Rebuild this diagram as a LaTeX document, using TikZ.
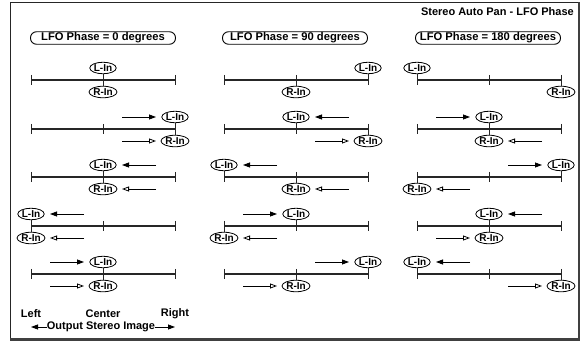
\documentclass[tikz,border=0pt]{standalone}
\usepackage{fontspec}
\setmainfont{Liberation Sans}
\usetikzlibrary{arrows.meta,shapes.geometric}
\tikzset{
  axisline/.style={line width=1.2pt, draw=black!85},
  tickline/.style={line width=0.9pt, draw=black!85},
  chan/.style={ellipse, draw, line width=0.8pt, inner sep=0.2pt, fill=white,
    minimum height=11.5pt, minimum width=25pt,
    font=\fontsize{10}{11}\selectfont\bfseries},
  hdr/.style={draw, line width=0.9pt, rounded corners=6pt, minimum width=145pt,
    minimum height=12.5pt, inner sep=0pt, font=\fontsize{11.2}{12}\selectfont\bfseries},
  lbl/.style={inner sep=0pt, font=\fontsize{11}{12}\selectfont\bfseries},
  arrL/.style={-{Triangle[length=7pt,width=5pt]}, line width=0.8pt},
  arrR/.style={-{Triangle[open,length=7pt,width=5pt]}, line width=0.8pt},
}
\newcommand\pandiag[7]{%
  \coordinate (#1a) at ({#2-72},#3);
  \coordinate (#1c) at (#2,#3);
  \coordinate (#1b) at ({#2+72},#3);
  \draw[axisline] (#1a) -- (#1b);
  \foreach \q in {a,c,b}{\draw[tickline] ([yshift=5pt]#1\q) -- ([yshift=-5pt]#1\q);}
  \coordinate (#1Lp) at ({#2+#4},#3);
  \coordinate (#1Rp) at ({#2+#5},#3);
  \node[chan] (#1L) at ({#2+#4},{#3-12}) {L-In};
  \node[chan] (#1R) at ({#2+#5},{#3+12}) {R-In};
  \draw[tickline] (#1L) -- (#1Lp);
  \draw[tickline] (#1R) -- (#1Rp);
  \ifnum#6=0\else
    \coordinate (#1Ls) at ([xshift={-53*(#6)}]#1L.center);
    \coordinate (#1Le) at ([xshift={-19*(#6)}]#1L.center);
    \draw[arrL] (#1Ls) -- (#1Le);
  \fi
  \ifnum#7=0\else
    \coordinate (#1Rs) at ([xshift={-53*(#7)}]#1R.center);
    \coordinate (#1Re) at ([xshift={-19*(#7)}]#1R.center);
    \draw[arrR] (#1Rs) -- (#1Re);
  \fi
}
\begin{document}
\begin{tikzpicture}[x=1pt,y=-1pt]
\useasboundingbox (0,0) rectangle (581,344);
% frame
\draw[line width=1pt, black!85] (10.5,339.5) -- (10.5,3) -- (579,3);
\draw[line width=2.5pt, black!75] (579,2.5) -- (579,339.5) -- (10,339.5);
% title
\node[lbl, anchor=east] (title) at (574,12) {Stereo Auto Pan - LFO Phase};
% headers
\node[hdr] (h1) at (103,38) {LFO Phase = 0 degrees};
\node[hdr] (h2) at (295,38) {LFO Phase = 90 degrees};
\node[hdr] (h3) at (488,38) {LFO Phase = 180 degrees};
% column 1
\pandiag{a1}{103}{80}{0}{0}{0}{0}
\pandiag{a2}{103}{129}{72}{72}{1}{1}
\pandiag{a3}{103}{177}{0}{0}{-1}{-1}
\pandiag{a4}{103}{226}{-72}{-72}{-1}{-1}
\pandiag{a5}{103}{274}{0}{0}{1}{1}
% column 2
\pandiag{b1}{296}{80}{72}{0}{0}{0}
\pandiag{b2}{296}{129}{0}{72}{-1}{1}
\pandiag{b3}{296}{177}{-72}{0}{-1}{-1}
\pandiag{b4}{296}{226}{0}{-72}{1}{-1}
\pandiag{b5}{296}{274}{72}{0}{1}{1}
% column 3
\pandiag{c1}{489}{80}{-72}{72}{0}{0}
\pandiag{c2}{489}{129}{0}{0}{1}{-1}
\pandiag{c3}{489}{177}{72}{-72}{1}{-1}
\pandiag{c4}{489}{226}{0}{0}{-1}{1}
\pandiag{c5}{489}{274}{-72}{72}{-1}{1}
% bottom labels
\node[lbl] (left) at (31,314) {Left};
\node[lbl] (center) at (103,314) {Center};
\node[lbl] (right) at (175,314) {Right};
\node[lbl] (out) at (101,327) {Output Stereo Image};
\coordinate (outL) at (31,327);
\coordinate (outR) at (175,327);
\draw[arrL] (out.west) -- (outL);
\draw[arrL] (out.east) -- (outR);
\end{tikzpicture}
\end{document}
